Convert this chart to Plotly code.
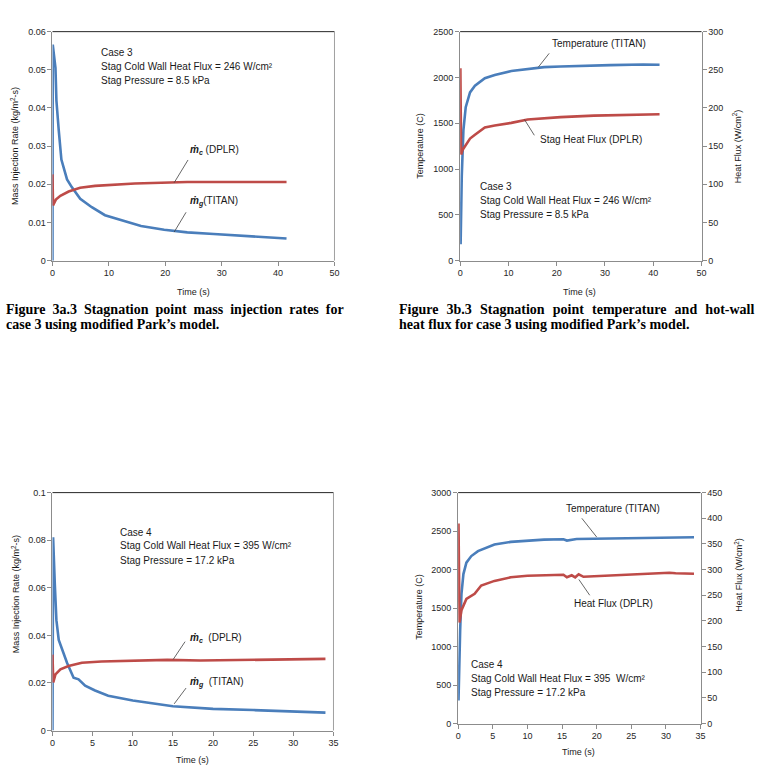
import plotly.graph_objects as go

W, H = 759, 774

# ---------------- data ----------------
c3_mg_t = [0, 0.05, 0.53, 0.70, 1.11, 1.58, 2.58, 3.45, 4.92, 6.97, 9.31, 12.2, 15.7, 19.8, 23.9, 28.6, 33.3, 38.0, 41.5]
c3_mg_v = [0, 0.0566, 0.0505, 0.0419, 0.0342, 0.0265, 0.0213, 0.0192, 0.0162, 0.0140, 0.0119, 0.0106, 0.0091, 0.0081, 0.0074, 0.0070, 0.0065, 0.0061, 0.0058]
c3_mc_t = [0, 0.1, 0.6, 1.4, 2.87, 4.9, 7.55, 10.5, 14.6, 19.3, 23.9, 32.1, 41.5]
c3_mc_v = [0.0226, 0.0145, 0.0160, 0.0170, 0.0181, 0.0191, 0.0196, 0.0199, 0.0202, 0.0204, 0.0206, 0.0206, 0.0206]

c3_T_t = [0.1, 0.34, 0.68, 1.16, 2.05, 3.07, 5.12, 7.17, 10.6, 14.0, 17.4, 20.8, 24.2, 31.1, 37.9, 41.3]
c3_T = [180, 924, 1425, 1676, 1837, 1909, 1991, 2027, 2070, 2095, 2113, 2120, 2127, 2135, 2142, 2138]
c3_q_t = [0.05, 0.2, 0.5, 1.02, 2.05, 3.07, 5.12, 7.17, 10.6, 14.0, 17.4, 20.8, 27.7, 34.5, 41.3]
c3_q = [252, 139, 145, 150, 160, 165, 174.5, 177, 180.5, 185, 186.5, 188, 190, 190.4, 191.7]

c4_mg_t = [0, 0.08, 0.29, 0.49, 0.78, 1.19, 1.81, 2.63, 3.25, 4.07, 5.3, 6.94, 10.0, 15.0, 20.0, 25.0, 30.0, 34.0]
c4_mg_v = [0, 0.0812, 0.0616, 0.0464, 0.0381, 0.0340, 0.0285, 0.0222, 0.0215, 0.0188, 0.0168, 0.0146, 0.0126, 0.0102, 0.0091, 0.0086, 0.0080, 0.0075]
c4_mc_t = [0, 0.1, 0.37, 0.99, 2.0, 3.66, 6.1, 10.2, 14.3, 18.4, 22.5, 26.7, 28.7, 34.0]
c4_mc_v = [0.0319, 0.0202, 0.0236, 0.0257, 0.0271, 0.0285, 0.0290, 0.0294, 0.0297, 0.0294, 0.0296, 0.0298, 0.0301, 0.0301]

c4_T_t = [0.05, 0.14, 0.29, 0.48, 0.76, 1.19, 1.9, 2.86, 3.8, 5.24, 7.6, 10.0, 12.4, 15.2, 15.7, 17.1, 20.0, 24.8, 29.0, 34.05]
c4_T = [299, 789, 1216, 1686, 1942, 2091, 2176, 2240, 2275, 2326, 2360, 2377, 2390, 2394, 2377, 2398, 2402, 2411, 2420, 2420]
c4_q_t = [0.05, 0.2, 0.48, 1.19, 2.38, 3.33, 5.24, 7.6, 10.0, 12.4, 15.2, 15.7, 16.4, 16.9, 17.4, 18.1, 21.9, 26.7, 30.5, 31.4, 34.05]
c4_q = [390, 197, 221, 243, 253, 269, 278, 285, 288, 289, 290, 285, 289, 285, 291, 286, 288, 291, 294, 293, 292]

caption_a = ["Figure 3a.3 Stagnation point mass injection rates for",
             "case 3 using modified Park’s model."]
caption_b = ["Figure 3b.3 Stagnation point temperature and hot-wall",
             "heat flux for case 3 using modified Park’s model."]

BLUE = "#4A7EBB"
RED = "#BE4B48"
FONT = "Liberation Sans"

def px(x):
    return x / W

def py(y):
    return 1 - y / H

fig = go.Figure()
lw = 2.6
fig.add_trace(go.Scatter(x=c3_mg_t, y=c3_mg_v, mode="lines", line=dict(color=BLUE, width=lw), xaxis="x", yaxis="y"))
fig.add_trace(go.Scatter(x=c3_mc_t, y=c3_mc_v, mode="lines", line=dict(color=RED, width=lw), xaxis="x", yaxis="y"))
fig.add_trace(go.Scatter(x=c3_T_t, y=c3_T, mode="lines", line=dict(color=BLUE, width=lw), xaxis="x2", yaxis="y2"))
fig.add_trace(go.Scatter(x=c3_q_t, y=c3_q, mode="lines", line=dict(color=RED, width=lw), xaxis="x2", yaxis="y5"))
fig.add_trace(go.Scatter(x=c4_mg_t, y=c4_mg_v, mode="lines", line=dict(color=BLUE, width=lw), xaxis="x3", yaxis="y3"))
fig.add_trace(go.Scatter(x=c4_mc_t, y=c4_mc_v, mode="lines", line=dict(color=RED, width=lw), xaxis="x3", yaxis="y3"))
fig.add_trace(go.Scatter(x=c4_T_t, y=c4_T, mode="lines", line=dict(color=BLUE, width=lw), xaxis="x4", yaxis="y4"))
fig.add_trace(go.Scatter(x=c4_q_t, y=c4_q, mode="lines", line=dict(color=RED, width=lw), xaxis="x4", yaxis="y6"))

tickfont = dict(family=FONT, size=9, color="#262626")
AX = dict(showgrid=False, zeroline=False, showline=True, linecolor="#8C8C8C", linewidth=1,
          ticks="outside", ticklen=4, tickcolor="#8C8C8C", tickfont=tickfont, fixedrange=True)

def xa(dom, rng, dt, anchor):
    d = dict(AX); d.update(domain=dom, range=rng, dtick=dt, anchor=anchor, tick0=0)
    return d

def ya(dom, rng, dt, anchor, side="left", overlay=None):
    d = dict(AX); d.update(range=rng, dtick=dt, anchor=anchor, side=side, tick0=0)
    if overlay:
        d.update(overlaying=overlay)
    else:
        d.update(domain=dom)
    return d

P1x = [px(50), px(335)]; P1y = [py(259), py(27)]
P2x = [px(462), px(706)]; P2y = [py(259), py(27)]
P3x = [px(50), px(334)]; P3y = [py(735), py(494)]
P4x = [px(460), px(705)]; P4y = [py(728), py(494)]

fig.update_layout(
    width=W, height=H, margin=dict(l=0, r=0, t=0, b=0),
    paper_bgcolor="white", plot_bgcolor="white", showlegend=False,
    xaxis=xa(P1x, [0, 50], 10, "y"),
    yaxis=ya(P1y, [0, 0.06], 0.01, "x"),
    xaxis2=xa(P2x, [0, 50], 10, "y2"),
    yaxis2=ya(P2y, [0, 2500], 500, "x2"),
    yaxis5=ya(None, [0, 300], 50, "x2", side="right", overlay="y2"),
    xaxis3=xa(P3x, [0, 35], 5, "y3"),
    yaxis3=ya(P3y, [0, 0.1], 0.02, "x3"),
    xaxis4=xa(P4x, [0, 35], 5, "y4"),
    yaxis4=ya(P4y, [0, 3000], 500, "x4"),
    yaxis6=ya(None, [0, 450], 50, "x4", side="right", overlay="y4"),
)

shapes = []
for (xd, yd, right_gray) in [(P1x, P1y, True), (P2x, P2y, False), (P3x, P3y, True), (P4x, P4y, False)]:
    shapes.append(dict(type="line", xref="paper", yref="paper", x0=xd[0], x1=xd[1], y0=yd[1], y1=yd[1],
                       line=dict(color="#262626", width=1)))
    if right_gray:
        shapes.append(dict(type="line", xref="paper", yref="paper", x0=xd[1], x1=xd[1], y0=yd[0], y1=yd[1],
                           line=dict(color="#A0A0A0", width=1)))

def leader(x0, y0, x1, y1):
    shapes.append(dict(type="line", xref="paper", yref="paper", x0=px(x0), y0=py(y0), x1=px(x1), y1=py(y1),
                       line=dict(color="#404040", width=0.8)))

leader(173, 180, 187, 157)
leader(173, 230, 185, 210)
leader(541, 63, 552, 49)
leader(527, 116, 537, 132)
leader(172, 663, 184, 645)
leader(173, 708, 185, 692)
leader(600, 539, 585, 520)
leader(582, 582, 593, 598)

annots = []

def txt(x, y, s, size=10, anchor="left", angle=0, family=FONT, color="#1A1A1A", yanchor="middle"):
    annots.append(dict(x=px(x), y=py(y), xref="paper", yref="paper", text=s, showarrow=False,
                       xanchor=anchor, yanchor=yanchor, textangle=angle,
                       font=dict(family=family, size=size, color=color)))

# panel 1
txt(97, 48, "Case 3")
txt(97, 62, "Stag Cold Wall Heat Flux = 246 W/cm²")
txt(97, 76, "Stag Pressure = 8.5 kPa")
txt(187, 147, "<b><i>ṁ</i></b><sub><b><i>c</i></b></sub> (DPLR)")
txt(187, 199, "<b><i>ṁ</i></b><sub><b><i>g</i></b></sub>(TITAN)")
txt(12, 143, "Mass Injection Rate (kg/m<sup>2</sup>-s)", size=9, anchor="center", angle=-90)
txt(193, 291, "Time (s)", size=9, anchor="center")
# panel 2
txt(602, 39, "Temperature (TITAN)", anchor="center")
txt(594, 136, "Stag Heat Flux (DPLR)", anchor="center")
txt(480, 184, "Case 3")
txt(480, 198, "Stag Cold Wall Heat Flux = 246 W/cm²")
txt(480, 212, "Stag Pressure = 8.5 kPa")
txt(422, 143, "Temperature (C)", size=9, anchor="center", angle=-90)
txt(742, 143, "Heat Flux (W/cm<sup>2</sup>)", size=9, anchor="center", angle=-90)
txt(583, 291, "Time (s)", size=9, anchor="center")
# panel 3
txt(116, 534, "Case 4")
txt(116, 548, "Stag Cold Wall Heat Flux = 395 W/cm²")
txt(116, 563, "Stag Pressure = 17.2 kPa")
txt(187, 641, "<b><i>ṁ</i></b><sub><b><i>c</i></b></sub>  (DPLR)")
txt(187, 686, "<b><i>ṁ</i></b><sub><b><i>g</i></b></sub>  (TITAN)")
txt(13, 597, "Mass Injection Rate (kg/m<sup>2</sup>-s)", size=9, anchor="center", angle=-90)
txt(192, 765, "Time (s)", size=9, anchor="center")
# panel 4
txt(616, 510, "Temperature (TITAN)", anchor="center")
txt(617, 606, "Heat Flux (DPLR)", anchor="center")
txt(471, 668, "Case 4")
txt(471, 682, "Stag Cold Wall Heat Flux = 395  W/cm²")
txt(471, 696, "Stag Pressure = 17.2 kPa")
txt(421, 610, "Temperature (C)", size=9, anchor="center", angle=-90)
txt(743, 577, "Heat Flux (W/cm<sup>2</sup>)", size=9, anchor="center", angle=-90)
txt(582, 757, "Time (s)", size=9, anchor="center")

# captions (first lines justified by widening the word gaps)
CAP = "Liberation Serif"
def justify(s, gap):
    return s.replace(" ", " " + gap)

txt(1, 308, "<b>" + justify(caption_a[0], "\u2005") + "</b>", size=14, anchor="left", family=CAP, color="black")
txt(1, 324, "<b>" + caption_a[1] + "</b>", size=14, anchor="left", family=CAP, color="black")
txt(398, 308, "<b>" + justify(caption_b[0], "\u2004") + "</b>", size=14, anchor="left", family=CAP, color="black")
txt(398, 324, "<b>" + caption_b[1] + "</b>", size=14, anchor="left", family=CAP, color="black")

fig.update_layout(shapes=shapes, annotations=annots)
fig.write_html("out.html")
